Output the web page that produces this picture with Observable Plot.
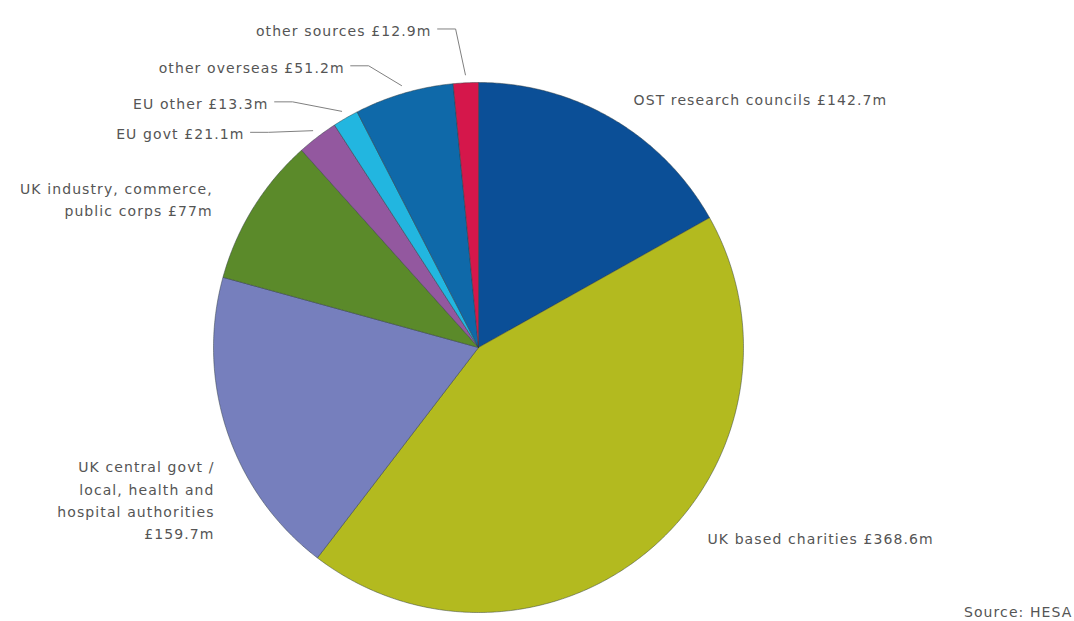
<!DOCTYPE html>
<html><head><meta charset="utf-8">
<script src="https://cdn.jsdelivr.net/npm/d3@7"></script>
<script src="https://cdn.jsdelivr.net/npm/@observablehq/plot@0.6"></script>
<style>body{margin:0;background:#fff;overflow:hidden} svg text{letter-spacing:1.1px}</style>
</head><body><div id="chart"></div>
<script>
// ---- data ----
const sources = ["OST research councils", "UK based charities", "UK central govt / local, health and hospital authorities", "UK industry, commerce, public corps", "EU govt", "EU other", "other overseas", "other sources"];
const amounts = [142.7, 368.6, 159.7, 77, 21.1, 13.3, 51.2, 12.9];
const labelTexts = [
  "OST research councils £142.7m",
  "UK based charities £368.6m",
  "UK central govt /\nlocal, health and\nhospital authorities\n£159.7m",
  "UK industry, commerce,\npublic corps £77m",
  "EU govt £21.1m",
  "EU other £13.3m",
  "other overseas £51.2m",
  "other sources £12.9m"
];
const sourceNote = "Source: HESA";

// ---- styles / layout (radius units, centre at 0,0) ----
const colors = ["#0b4f97", "#b3ba1f", "#767fbd", "#5b8a2a", "#93589f", "#22b6e0", "#0f69a9", "#d5174b"];
const R = 265, CX = 478, CY = 347, W = 1074, H = 621;
const labelLayout = [
  {x: 0.585, y: 0.940, anchor: "start", leader: false},
  {x: 0.864, y: -0.713, anchor: "start", leader: false},
  {x: -0.996, y: -0.570, anchor: "end", leader: false},
  {x: -1.003, y: 0.564, anchor: "end", leader: false},
  {x: -0.883, y: 0.812, anchor: "end", leader: true},
  {x: -0.792, y: 0.927, anchor: "end", leader: true},
  {x: -0.505, y: 1.063, anchor: "end", leader: true},
  {x: -0.177, y: 1.202, anchor: "end", leader: true}
];

const arcs = d3.pie().sort(null).value(d => d)(amounts);
const pt = (a, rho) => ({x: rho * Math.sin(a), y: rho * Math.cos(a)});

const slicePts = [];
arcs.forEach((a, i) => {
  const n = Math.max(2, Math.ceil((a.endAngle - a.startAngle) / (Math.PI / 360)));
  slicePts.push({...pt(0, 0), s: sources[i]});
  for (let k = 0; k <= n; k++) {
    const ang = a.startAngle + (a.endAngle - a.startAngle) * k / n;
    slicePts.push({...pt(ang, 1), s: sources[i]});
  }
  slicePts.push({...pt(0, 0), s: sources[i]});
});

const leaderPts = [];
arcs.forEach((a, i) => {
  const L = labelLayout[i];
  if (!L.leader) return;
  const mid = (a.startAngle + a.endAngle) / 2;
  const x0 = L.x + 6 / R;
  const x1 = x0 + 18 / R;
  leaderPts.push({x: x0, y: L.y, s: sources[i]});
  leaderPts.push({x: x1, y: L.y, s: sources[i]});
  leaderPts.push({...pt(mid, 1.03), s: sources[i]});
});

const labels = labelTexts.map((t, i) => ({t, ...labelLayout[i]}));

const chart = Plot.plot({
  width: W, height: H,
  margin: 0,
  x: {domain: [-CX / R, (W - CX) / R], axis: null},
  y: {domain: [-(H - CY) / R, CY / R], axis: null},
  color: {domain: sources, range: colors},
  style: {fontFamily: "'DejaVu Sans', sans-serif", background: "#fff"},
  marks: [
    Plot.line(slicePts, {x: "x", y: "y", z: "s", fill: "s", stroke: "#2e3a40", strokeWidth: 0.6, strokeOpacity: 0.8, curve: "linear"}),
    Plot.line(leaderPts, {x: "x", y: "y", z: "s", stroke: "#808080", strokeWidth: 1}),
    Plot.text(labels.filter(d => d.anchor === "start"), {x: "x", y: "y", text: "t", textAnchor: "start", fill: "#555", fontSize: 14, lineHeight: 1.58}),
    Plot.text(labels.filter(d => d.anchor === "end"), {x: "x", y: "y", text: "t", textAnchor: "end", fill: "#555", fontSize: 14, lineHeight: 1.58}),
    Plot.text([sourceNote], {frameAnchor: "bottom-right", text: d => d, dx: -2, dy: -5, fill: "#555", fontSize: 14})
  ]
});
document.getElementById("chart").appendChild(chart);
</script>
</body></html>
